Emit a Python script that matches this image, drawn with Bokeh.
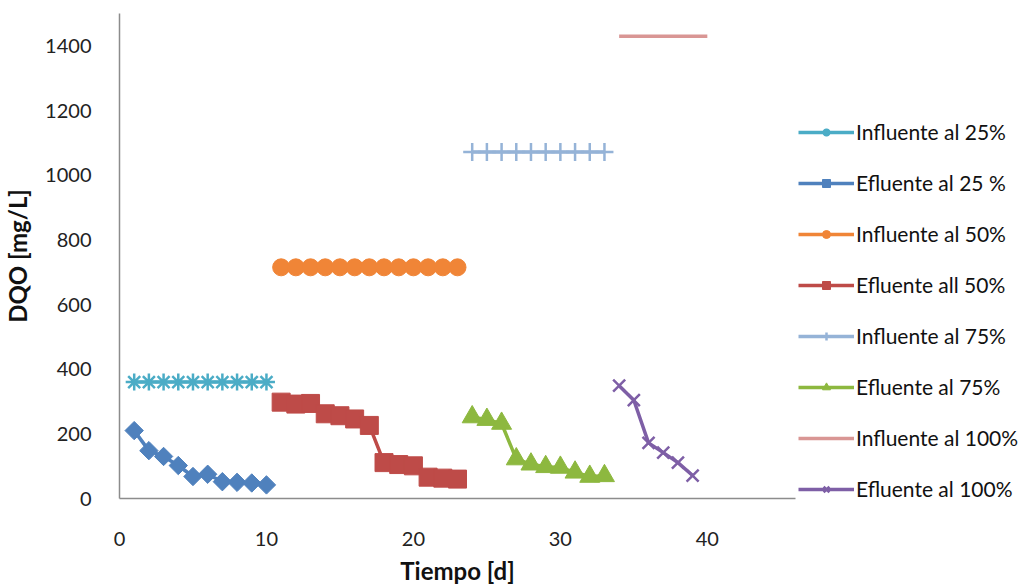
import math
from bokeh.plotting import figure
from bokeh.models import Legend, LegendItem, Range1d, FixedTicker
from bokeh.embed import file_html
from bokeh.resources import INLINE

# ---- data ----
dias_25 = [1, 2, 3, 4, 5, 6, 7, 8, 9, 10]
inf_25 = [360, 360, 360, 360, 360, 360, 360, 360, 360, 360]
ef_25 = [210, 148, 130, 102, 68, 75, 52, 50, 48, 42]

dias_50 = [11, 12, 13, 14, 15, 16, 17, 18, 19, 20, 21, 22, 23]
inf_50 = [715, 715, 715, 715, 715, 715, 715, 715, 715, 715, 715, 715, 715]
ef_50 = [298, 292, 294, 262, 256, 246, 226, 111, 105, 101, 66, 63, 60]

dias_75 = [24, 25, 26, 27, 28, 29, 30, 31, 32, 33]
inf_75 = [1072, 1072, 1072, 1072, 1072, 1072, 1072, 1072, 1072, 1072]
ef_75 = [252, 244, 232, 122, 106, 98, 96, 81, 68, 70]

dias_100_inf = [34, 35, 36, 37, 38, 39, 40]
inf_100 = [1430, 1430, 1430, 1430, 1430, 1430, 1430]
dias_100 = [34, 35, 36, 37, 38, 39]
ef_100 = [349, 304, 172, 142, 111, 71]

x_ticks = [0, 10, 20, 30, 40]
y_ticks = [0, 200, 400, 600, 800, 1000, 1200, 1400]

FONT = "Lato"

p = figure(frame_width=676, frame_height=485, output_backend="svg",
           toolbar_location=None, min_border_left=119, min_border_top=13,
           min_border_bottom=88, min_border_right=10,
           x_range=Range1d(0, 46), y_range=Range1d(0, 1500))
p.outline_line_color = None
p.xgrid.visible = False
p.ygrid.visible = False

for ax in (p.xaxis[0], p.yaxis[0]):
    ax.axis_line_color = "#8c8c8c"
    ax.axis_line_width = 1.5
    ax.major_tick_line_color = None
    ax.minor_tick_line_color = None
    ax.major_label_text_font = FONT
    ax.major_label_text_font_size = "20px"
    ax.major_label_text_color = "#222222"
    ax.axis_label_text_font = FONT
    ax.axis_label_text_font_size = "24px"
    ax.axis_label_text_font_style = "bold"
    ax.axis_label_text_color = "#111111"

p.xaxis.ticker = FixedTicker(ticks=x_ticks)
p.yaxis.ticker = FixedTicker(ticks=y_ticks)
p.xaxis.axis_label = "Tiempo [d]"
p.yaxis.axis_label = "DQO [mg/L]"
p.xaxis.major_label_standoff = 27
p.xaxis.axis_label_standoff = 7
p.yaxis.major_label_standoff = 22
p.yaxis.axis_label_standoff = 10

LW = 3.5
items = []

def series(x, y, color, marker, size, label, angle=0.0, fill=True):
    r_line = p.line(x, y, line_color=color, line_width=LW)
    rs = [r_line]
    if marker is not None:
        if fill:
            r_m = p.scatter(x, y, marker=marker, size=size, fill_color=color,
                            line_color=color, angle=angle)
        else:
            r_m = p.scatter(x, y, marker=marker, size=size, fill_color=None,
                            line_color=color, line_width=2.5, angle=angle)
        rs.append(r_m)
    items.append(LegendItem(label=label, renderers=rs))

series(dias_25, inf_25, "#4BACC6", "asterisk", 17, "Influente al 25%", fill=False)
series(dias_25, ef_25, "#4F81BD", "square", 13, "Efluente al 25 %", angle=math.pi / 4)
series(dias_50, inf_50, "#F08537", "circle", 17, "Influente al 50%")
series(dias_50, ef_50, "#BE4B48", "square", 18, "Efluente all 50%")
series(dias_75, inf_75, "#95B3D7", "cross", 18, "Influente al 75%", fill=False)
series(dias_75, ef_75, "#8DB83F", "triangle", 20, "Efluente al 75%")
series(dias_100_inf, inf_100, "#D99694", None, 0, "Influente al 100%")
series(dias_100, ef_100, "#7E5FA6", "x", 17, "Efluente al 100%", fill=False)

legend = Legend(items=items, location=(3, -3))
legend.label_text_font = FONT
legend.label_text_font_size = "21px"
legend.label_text_color = "#111111"
legend.glyph_width = 56
legend.glyph_height = 20
legend.label_height = 22
legend.label_standoff = 2
legend.spacing = 26
legend.padding = 0
legend.margin = 0
legend.border_line_color = None
legend.background_fill_alpha = 0
p.add_layout(legend, "right")

open("out.html", "w").write(file_html(p, INLINE))
